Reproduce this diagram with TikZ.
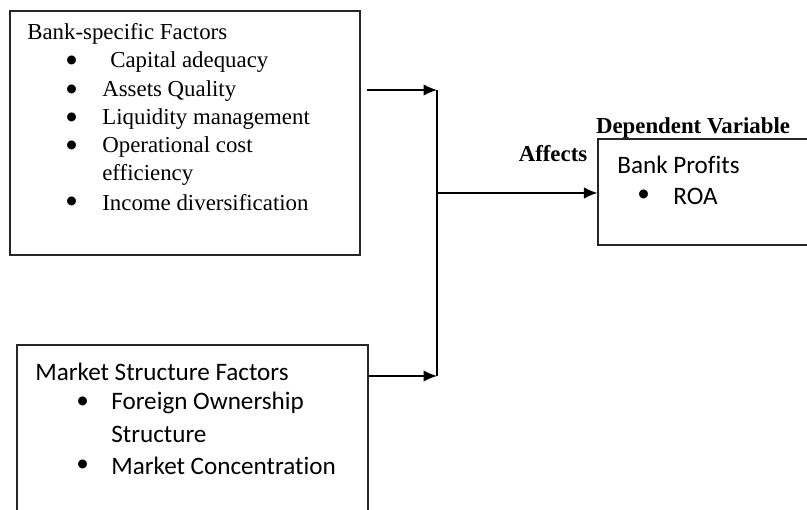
\documentclass[tikz,border=0pt]{standalone}
\usepackage{fontspec}
\setmainfont{Liberation Serif}
\newfontfamily\calibri[Ligatures=CommonOff]{Carlito}
\usepackage{tikz}
\usetikzlibrary{arrows.meta}

\newcommand{\blt}{{\calibri\fontsize{14.3}{17}\selectfont •}}

\tikzset{
    factorbox/.style = {draw = black!85, line width = 0.6pt, minimum width = 7cm, inner sep = 0pt},
    serif text/.style = {font = \fontsize{13}{15}\selectfont, inner sep = 0pt},
    sans text/.style = {font = \calibri\fontsize{14.3}{17}\selectfont, inner sep = 0pt},
    flow/.style = {draw = black, line width = 0.8pt},
    tip/.style = {-{Latex[length = 2.7mm, width = 2.3mm]}},
}

\begin{document}
\begin{tikzpicture}
        \useasboundingbox[fill = white] (0, 0) rectangle (16.14, 10.2);
        % boxes
        \node[factorbox, minimum height = 4.88cm] (bank) at (3.7, 7.54) {};
        \node[factorbox, minimum width = 7.02cm, minimum height = 3.8cm] (market) at (3.85, 1.4) {};
        \node[factorbox, minimum width = 4.6cm, minimum height = 2.12cm] (profit) at (14.26, 6.36) {};
        % bank-specific factors
        \node[serif text] (bankhead) at (0.54, 9.52) [right] {Bank-specific Factors};
        \node[serif text] (bulA) at (1.3, 8.96) [right] {\blt};
        \node[serif text] (itemA) at (2.2, 8.96) [right] {Capital adequacy};
        \node[serif text] (bulB) at (1.3, 8.38) [right] {\blt};
        \node[serif text] (itemB) at (2.04, 8.38) [right] {Assets Quality};
        \node[serif text] (bulC) at (1.3, 7.82) [right] {\blt};
        \node[serif text] (itemC) at (2.04, 7.82) [right] {Liquidity management};
        \node[serif text] (bulD) at (1.3, 7.26) [right] {\blt};
        \node[serif text] (itemD) at (2.04, 7.26) [right] {Operational cost};
        \node[serif text] (itemDb) at (2.04, 6.70) [right] {efficiency};
        \node[serif text] (bulE) at (1.3, 6.14) [right] {\blt};
        \node[serif text] (itemE) at (2.04, 6.14) [right] {Income diversification};
        % market structure factors
        \node[sans text] (markethead) at (0.7, 2.76) [right] {Market Structure Factors};
        \node[sans text] (bulF) at (1.52, 2.14) [right] {•};
        \node[sans text] (itemF) at (2.22, 2.14) [right] {Foreign Ownership};
        \node[sans text] (itemFb) at (2.22, 1.52) [right] {Structure};
        \node[sans text] (bulG) at (1.52, 0.88) [right] {•};
        \node[sans text] (itemG) at (2.22, 0.88) [right] {Market Concentration};
        % dependent variable
        \node[sans text] (profithead) at (12.34, 6.9) [right] {Bank Profits};
        \node[sans text] (bulH) at (12.74, 6.28) [right] {•};
        \node[sans text] (itemH) at (13.46, 6.28) [right] {ROA};
        \node[serif text, font = \fontsize{13}{15}\selectfont\bfseries] (deplabel) at (13.86, 7.64) {Dependent Variable};
        \node[serif text, font = \fontsize{13}{15}\selectfont\bfseries] (affects) at (11.06, 7.12) {Affects};
        % connectors
        \coordinate (bankout) at (7.34, 8.4);
        \coordinate (topjoin) at (8.74, 8.4);
        \coordinate (lowjoin) at (8.74, 2.68);
        \coordinate (midjoin) at (8.74, 6.34);
        \draw[flow, tip] (bankout) -- (topjoin);
        \draw[flow] (topjoin) -- (lowjoin);
        \draw[flow, tip] (market.east |- lowjoin) -- (lowjoin);
        \draw[flow, tip] (midjoin) -- (profit.west |- midjoin);
    \end{tikzpicture}
\end{document}
